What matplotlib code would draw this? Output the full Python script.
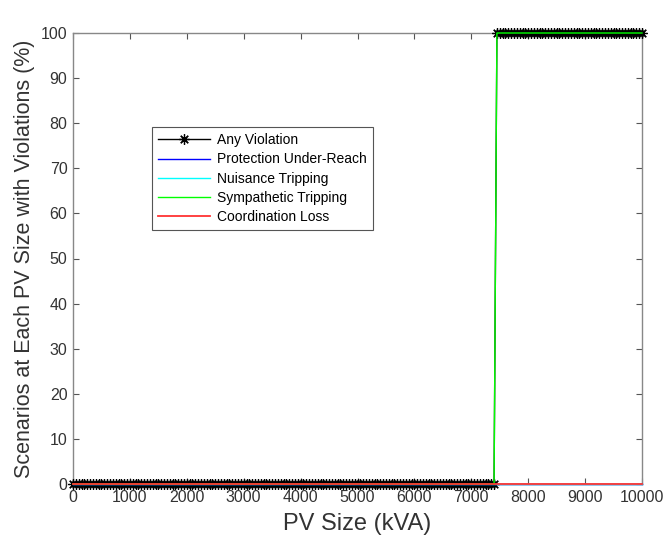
import numpy as np
import matplotlib
matplotlib.use("Agg")
import matplotlib.pyplot as plt

plt.rcParams['font.family'] = ['Liberation Sans', 'DejaVu Sans']

# Data
pv_size = np.arange(0, 10001, 50)          # kVA
threshold = 7450                            # first PV size with violations
any_violation = np.where(pv_size >= threshold, 100, 0)
under_reach = np.zeros(len(pv_size))
nuisance = np.zeros(len(pv_size))
sympathetic = np.where(pv_size >= threshold, 100, 0)
coordination = np.zeros(len(pv_size))

x_ticks = list(range(0, 10001, 1000))
y_ticks = list(range(0, 101, 10))

fig = plt.figure(figsize=(6.69, 5.44), dpi=100)
ax = fig.add_axes([73/669, 1-484/544, (642-73)/669, (484-33)/544])

ax.plot(pv_size, any_violation, color='black', marker=(8, 2, 0), markersize=7.5,
        markeredgewidth=0.9, lw=1, label='Any Violation', clip_on=False, zorder=3)
ax.plot(pv_size, under_reach, color='#0000ff', lw=1, label='Protection Under-Reach',
        clip_on=False, zorder=3)
ax.plot(pv_size, nuisance, color='#00ffff', lw=1, label='Nuisance Tripping',
        clip_on=False, zorder=3)
ax.plot(pv_size, sympathetic, color='#00ff00', lw=1, label='Sympathetic Tripping',
        clip_on=False, zorder=3)
ax.plot(pv_size, coordination, color='#ff3333', lw=1.3, label='Coordination Loss',
        clip_on=False, zorder=3)

ax.set_xlim(0, 10000)
ax.set_ylim(0, 100)
ax.set_xticks(x_ticks)
ax.set_yticks(y_ticks)
ax.tick_params(direction='in', length=4, width=0.8, color='#555555',
               labelsize=11.5, labelcolor='#333333', top=True, right=True,
               pad=4)
for s in ax.spines.values():
    s.set_color('#888888')
    s.set_linewidth(1)
    s.set_zorder(2)

ax.set_xlabel('PV Size (kVA)', fontsize=17, color='#333333', labelpad=6)
ax.set_ylabel('Scenarios at Each PV Size with Violations (%)', fontsize=15.5,
              color='#333333', labelpad=4)

leg = fig.legend(loc='upper left', bbox_to_anchor=(152/669, 1-127/544),
                 fontsize=10, frameon=True, fancybox=False, edgecolor='#555555',
                 borderpad=0.45, labelspacing=0.37, handlelength=3.7,
                 handletextpad=0.5, borderaxespad=0, framealpha=1)
leg.get_frame().set_linewidth(0.8)

fig.savefig('out.png', dpi=100)
